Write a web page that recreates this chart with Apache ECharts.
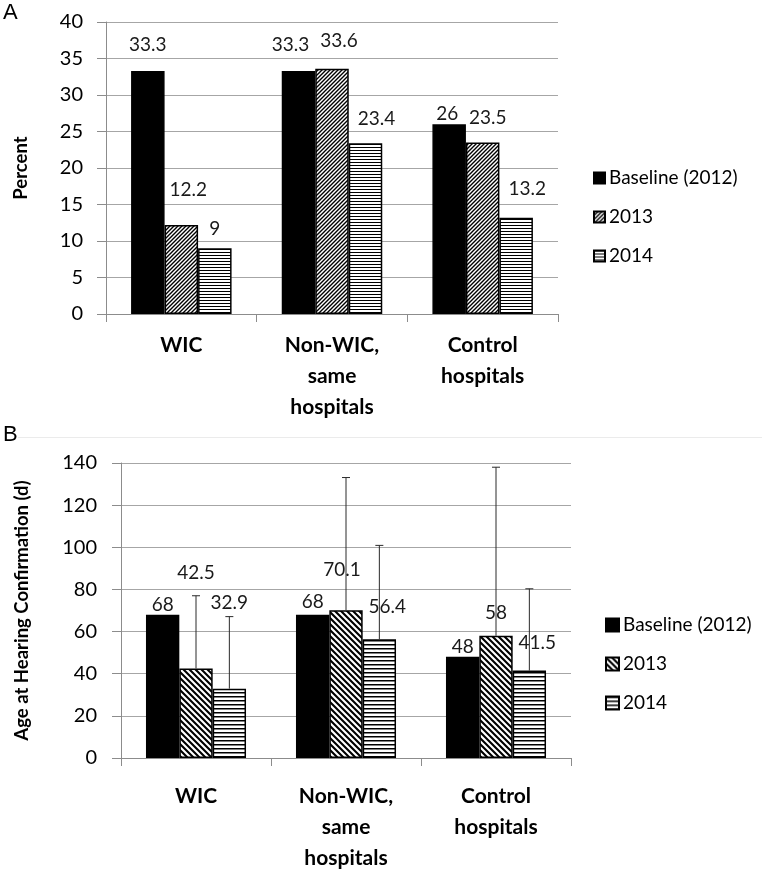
<!DOCTYPE html>
<html>
<head>
<meta charset="utf-8">
<script src="https://cdn.jsdelivr.net/npm/echarts@6/dist/echarts.min.js"></script>
<style>
  html, body { margin: 0; padding: 0; background: #fff; }
  #chart { width: 762px; height: 874px; }
</style>
</head>
<body>
<div id="chart"></div>
<script>
// ---------- data ----------
const categories = ['WIC', 'Non-WIC,\nsame\nhospitals', 'Control\nhospitals'];
const seriesNames = ['Baseline (2012)', '2013', '2014'];

// Panel A: Percent
const percentBaseline = [33.3, 33.3, 26];
const percent2013 = [12.2, 33.6, 23.5];
const percent2014 = [9, 23.4, 13.2];
const percentTicks = { min: 0, max: 40, interval: 5 };

// Panel B: Age at hearing confirmation (days)
const ageBaseline = [68, 68, 48];
const age2013 = [42.5, 70.1, 58];
const age2014 = [32.9, 56.4, 41.5];
const ageErr2013 = [34.5, 63, 80];
const ageErr2014 = [34.2, 44.5, 38.8];
const ageTicks = { min: 0, max: 140, interval: 20 };

// ---------- label placement (styling only) ----------
const labelShiftA = [
  [[0, 17], [-8, 17], [-2, 1]],
  [[7, 26], [7, 18], [5, 15]],
  [[0, 10], [11, 15], [11, 19]]
];
const labelShiftB = [
  [[0, 0], [0, 3], [0, 0]],
  [[0, 86], [-4, 31], [0, 13]],
  [[0, 76], [8, 23], [8, 18]]
];

// ---------- patterns ----------
function makeTile(w, h, draw) {
  const c = document.createElement('canvas');
  c.width = w; c.height = h;
  const ctx = c.getContext('2d');
  ctx.fillStyle = '#fff';
  ctx.fillRect(0, 0, w, h);
  ctx.strokeStyle = '#000';
  ctx.fillStyle = '#000';
  draw(ctx, w, h);
  return { image: c, repeat: 'repeat' };
}
function forwardDiag(s, lw) {
  return makeTile(s, s, (ctx) => {
    ctx.lineWidth = lw;
    ctx.beginPath();
    ctx.moveTo(-1, s + 1); ctx.lineTo(s + 1, -1);
    ctx.moveTo(-1, 1); ctx.lineTo(1, -1);
    ctx.moveTo(s - 1, s + 1); ctx.lineTo(s + 1, s - 1);
    ctx.stroke();
  });
}
function backDiag(s, lw) {
  return makeTile(s, s, (ctx) => {
    ctx.lineWidth = lw;
    ctx.beginPath();
    ctx.moveTo(-1, -1); ctx.lineTo(s + 1, s + 1);
    ctx.moveTo(s - 1, -1); ctx.lineTo(s + 1, 1);
    ctx.moveTo(-1, s - 1); ctx.lineTo(1, s + 1);
    ctx.stroke();
  });
}
function horizLines(w, h, lh) {
  return makeTile(w, h, (ctx) => { ctx.fillRect(0, 0, w, lh); });
}

const patA2013 = forwardDiag(4, 1.4);
const patA2014 = horizLines(4, 3, 1);
const patB2013 = backDiag(6, 2.1);
const patB2014 = horizLines(4, 4, 1.5);

const FONT = 'Lato, "Open Sans", sans-serif';
const GAP = '33.3%';

function barData(values, shifts) {
  return values.map((v, i) => ({
    value: v,
    label: { offset: [shifts[i][0], -shifts[i][1]] }
  }));
}

function barSeries(name, values, shifts, fill, axisIdx) {
  return {
    type: 'bar',
    name: name,
    xAxisIndex: axisIdx,
    yAxisIndex: axisIdx,
    barGap: '0%',
    barCategoryGap: GAP,
    data: barData(values, shifts),
    itemStyle: { color: fill, borderColor: '#000', borderWidth: 1.5 },
    emphasis: { disabled: true },
    label: {
      show: true,
      position: 'top',
      distance: 0,
      fontFamily: FONT,
      fontSize: 19,
      color: '#1a1a1a'
    },
    z: 2
  };
}

function errSeries(values, errs, slot) {
  return {
    type: 'custom',
    xAxisIndex: 1,
    yAxisIndex: 1,
    silent: true,
    z: 5,
    data: values.map((v, i) => [i, v, errs[i]]),
    renderItem: function (params, api) {
      const cat = api.value(0), v = api.value(1), e = api.value(2);
      const base = api.coord([cat, v]);
      const top = api.coord([cat, v + e]);
      const band = api.size([1, 0])[0];
      const bw = band * (1 - 0.333) / 3;
      const x = base[0] + slot * bw;
      const st = { stroke: '#2a2a2a', lineWidth: 1 };
      return {
        type: 'group',
        children: [
          { type: 'line', shape: { x1: x, y1: base[1], x2: x, y2: top[1] }, style: st },
          { type: 'line', shape: { x1: x - 4, y1: top[1], x2: x + 4, y2: top[1] }, style: st }
        ]
      };
    }
  };
}

function valueAxis(idx, ticks, name, gap, labelMargin) {
  return {
    type: 'value',
    gridIndex: idx,
    min: ticks.min,
    max: ticks.max,
    interval: ticks.interval,
    name: name,
    nameLocation: 'middle',
    nameGap: gap,
    nameRotate: 90,
    nameTextStyle: { fontFamily: FONT, fontWeight: 'bold', fontSize: 18.5, color: '#000' },
    axisLine: { show: true, lineStyle: { color: '#8c8c8c', width: 1 } },
    axisTick: { show: true, inside: false, length: 9, lineStyle: { color: '#8c8c8c' } },
    axisLabel: { fontFamily: FONT, fontSize: 20, color: '#000', margin: labelMargin },
    splitLine: { show: true, lineStyle: { color: '#a6a6a6', width: 1 } }
  };
}

function categoryAxis(idx, margin) {
  return {
    type: 'category',
    gridIndex: idx,
    data: categories,
    axisLine: { show: true, lineStyle: { color: '#8c8c8c', width: 1 } },
    axisTick: { show: true, length: 8, alignWithLabel: false, lineStyle: { color: '#8c8c8c' } },
    axisLabel: {
      interval: 0,
      fontFamily: FONT,
      fontWeight: 'bold',
      fontSize: 21,
      lineHeight: 31,
      color: '#000',
      margin: margin
    },
    splitLine: { show: false }
  };
}

const bNames = seriesNames.map(n => 'B:' + n);

function legendCfg(names, left, top, icon, fmt) {
  const cfg = {
    data: names,
    orient: 'vertical',
    left: left,
    top: top,
    padding: 0,
    itemWidth: icon,
    itemHeight: icon,
    itemGap: 19,
    icon: 'rect',
    selectedMode: false,
    textStyle: { fontFamily: FONT, fontSize: 19, color: '#000', lineHeight: 20, padding: [0, 0, 0, -1] }
  };
  if (fmt) cfg.formatter = fmt;
  return cfg;
}

const option = {
  animation: false,
  backgroundColor: '#fff',
  grid: [
    { left: 106, top: 22, width: 452, height: 292, containLabel: false },
    { left: 121, top: 463, width: 450, height: 300, containLabel: false }
  ],
  xAxis: [categoryAxis(0, 16), categoryAxis(1, 23)],
  yAxis: [
    valueAxis(0, percentTicks, 'Percent', 75, 23),
    valueAxis(1, ageTicks, 'Age at Hearing Confirmation (d)', 89, 24)
  ],
  legend: [
    legendCfg(seriesNames, 593, 168, 11),
    legendCfg(bNames, 605, 615, 13, n => n.replace(/^B:/, ''))
  ],
  graphic: [
    { type: 'text', left: 3, top: 2, style: { text: 'A', fontFamily: '"Liberation Sans", Arial, sans-serif', fontSize: 22, fill: '#000' } },
    { type: 'text', left: 3, top: 424, style: { text: 'B', fontFamily: '"Liberation Sans", Arial, sans-serif', fontSize: 22, fill: '#000' } },
    { type: 'line', shape: { x1: 18, y1: 437.5, x2: 762, y2: 437.5 }, style: { stroke: '#ebebeb', lineWidth: 1 } }
  ],
  series: [
    barSeries(seriesNames[0], percentBaseline, labelShiftA[0], '#000', 0),
    barSeries(seriesNames[1], percent2013, labelShiftA[1], patA2013, 0),
    barSeries(seriesNames[2], percent2014, labelShiftA[2], patA2014, 0),
    barSeries(bNames[0], ageBaseline, labelShiftB[0], '#000', 1),
    barSeries(bNames[1], age2013, labelShiftB[1], patB2013, 1),
    barSeries(bNames[2], age2014, labelShiftB[2], patB2014, 1),
    errSeries(age2013, ageErr2013, 0),
    errSeries(age2014, ageErr2014, 1)
  ]
};

const chart = echarts.init(document.getElementById('chart'), null, { renderer: 'canvas' });
chart.setOption(option);
</script>
</body>
</html>
